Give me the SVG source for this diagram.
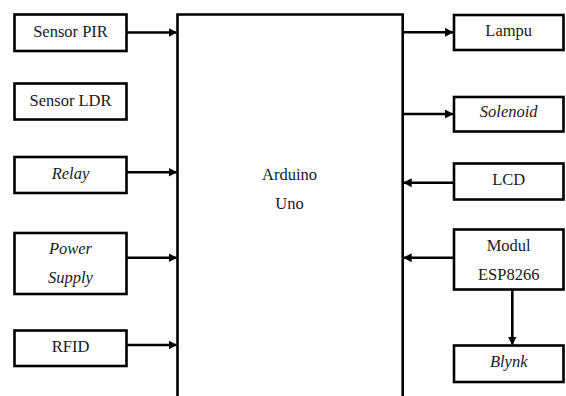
<svg xmlns="http://www.w3.org/2000/svg" width="566" height="396" viewBox="0 0 566 396">
<style>
.box{fill:#fff;stroke:#000;stroke-width:2.6}
.ln{fill:none;stroke:#000;stroke-width:2.6}
.t{font-family:'Liberation Serif','Times New Roman',serif;font-size:16.5px;fill:#1a1a1a;text-anchor:middle}
.it{font-style:italic}
</style>
<defs>
<marker id="ah" markerUnits="userSpaceOnUse" markerWidth="9" markerHeight="9" refX="8" refY="4.5" orient="auto">
<path d="M0,0 L8.5,4.5 L0,9 Z" fill="#000"/>
</marker>
</defs>
<rect width="566" height="396" fill="#fff"/>
<g id="arduino">
<path class="ln" d="M177.5,397 V14.5 H402.7 V397"/>
<text class="t" x="289.5" y="180">Arduino</text>
<text class="t" x="289.5" y="209">Uno</text>
</g>
<g id="sensor-pir"><rect class="box" x="14.5" y="14.5" width="112" height="36.5"/><text class="t" x="70.5" y="37">Sensor PIR</text></g>
<g id="sensor-ldr"><rect class="box" x="14.5" y="83.5" width="112" height="36"/><text class="t" x="70.5" y="105.7">Sensor LDR</text></g>
<g id="relay"><rect class="box" x="14.5" y="157" width="112" height="36"/><text class="t it" x="70.5" y="179.3">Relay</text></g>
<g id="power-supply"><rect class="box" x="14.5" y="233" width="112" height="61"/><text class="t it" x="70.5" y="254.3">Power</text><text class="t it" x="70.5" y="282.7">Supply</text></g>
<g id="rfid"><rect class="box" x="14.5" y="330.5" width="112" height="35.5"/><text class="t" x="70.5" y="351.7">RFID</text></g>
<g id="lampu"><rect class="box" x="454" y="15" width="109.5" height="35"/><text class="t" x="508.7" y="35.7">Lampu</text></g>
<g id="solenoid"><rect class="box" x="454" y="97" width="109.5" height="34.5"/><text class="t it" x="508.7" y="116.7">Solenoid</text></g>
<g id="lcd"><rect class="box" x="454" y="163.5" width="109.5" height="36"/><text class="t" x="508.7" y="185">LCD</text></g>
<g id="esp8266"><rect class="box" x="454" y="229.5" width="109.5" height="60"/><text class="t" x="508.7" y="251">Modul</text><text class="t" x="508.7" y="280">ESP8266</text></g>
<g id="blynk"><rect class="box" x="454" y="345.5" width="109.5" height="36.5"/><text class="t it" x="508.7" y="366.7">Blynk</text></g>
<g id="connectors">
<line class="ln" x1="126.5" y1="32.5" x2="176.5" y2="32.5" marker-end="url(#ah)"/>
<line class="ln" x1="126.5" y1="172.3" x2="176.5" y2="172.3" marker-end="url(#ah)"/>
<line class="ln" x1="126.5" y1="257.7" x2="176.5" y2="257.7" marker-end="url(#ah)"/>
<line class="ln" x1="126.5" y1="345" x2="176.5" y2="345" marker-end="url(#ah)"/>
<line class="ln" x1="402.7" y1="32.3" x2="453" y2="32.3" marker-end="url(#ah)"/>
<line class="ln" x1="402.7" y1="114" x2="453" y2="114" marker-end="url(#ah)"/>
<line class="ln" x1="454" y1="182.7" x2="403.7" y2="182.7" marker-end="url(#ah)"/>
<line class="ln" x1="454" y1="257.7" x2="403.7" y2="257.7" marker-end="url(#ah)"/>
<line class="ln" x1="512.3" y1="290" x2="512.3" y2="344.5" marker-end="url(#ah)"/>
</g>
</svg>
